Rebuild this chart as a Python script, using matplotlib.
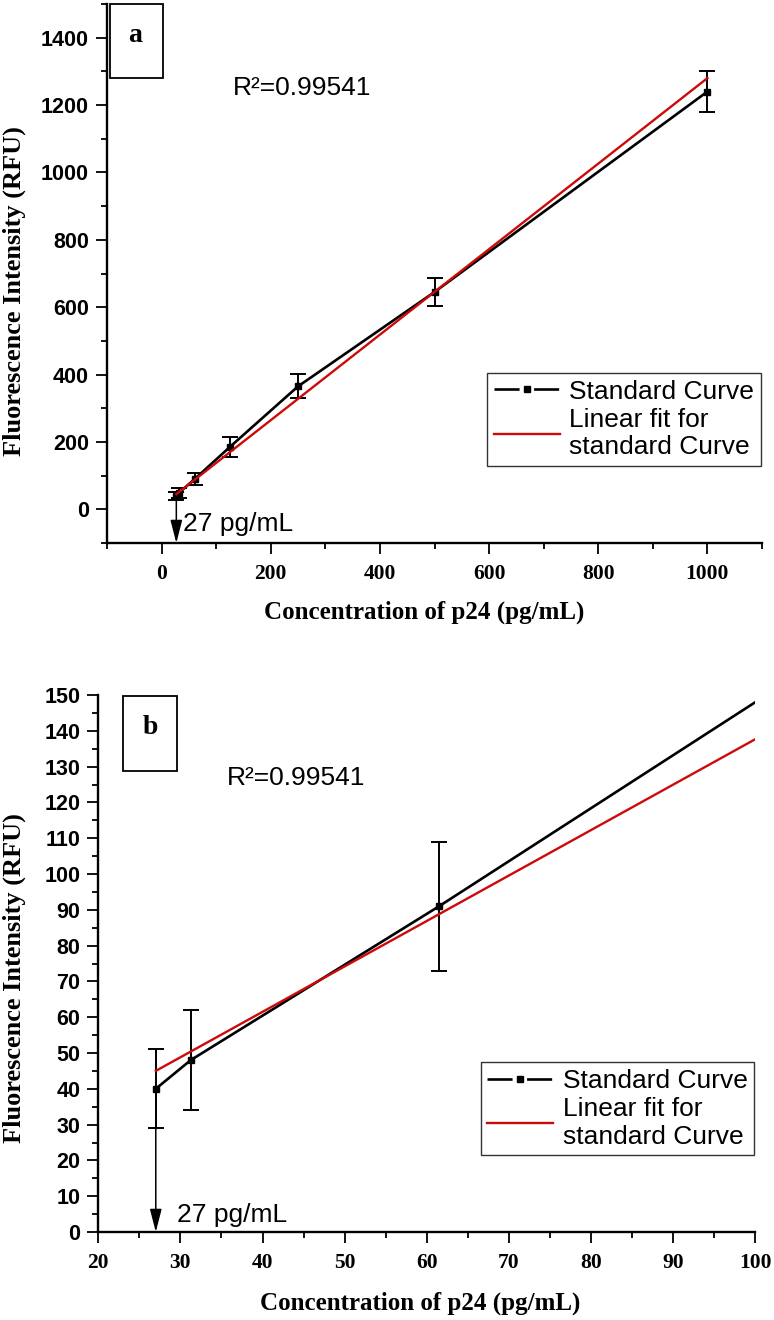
import matplotlib
matplotlib.use("Agg")
import matplotlib.pyplot as plt
from matplotlib.patches import Rectangle
from matplotlib.lines import Line2D
from matplotlib.ticker import MultipleLocator

# standard curve, values
conc = [27, 31.25, 61.5, 125, 250, 500, 1000]
rfu = [40, 48, 91, 185, 365, 645, 1240]
rfu_err = [11, 14, 18, 30, 36, 42, 60]

# linear fit end points
fit_x = [27, 1000]
fit_y = [45, 1280]

# tick positions
a_xticks = [0, 200, 400, 600, 800, 1000]
a_yticks = [0, 200, 400, 600, 800, 1000, 1200, 1400]
b_xticks = [20, 30, 40, 50, 60, 70, 80, 90, 100]
b_yticks = [0, 10, 20, 30, 40, 50, 60, 70, 80, 90, 100, 110, 120, 130, 140, 150]

r2_text = "R\u00b2=0.99541"
lod_text = "27 pg/mL"
lod = 27

xlab = "Concentration of p24 (pg/mL)"
ylab = "Fluorescence Intensity (RFU)"

SANS = "Liberation Sans"
SERIF = "Liberation Serif"
RED = "#cc0a0a"
TXT = 19

fig = plt.figure(figsize=(7.74, 13.2), dpi=100)
ax1 = fig.add_axes([107/774, 1-543/1320, 655/774, 539/1320])
ax2 = fig.add_axes([98.3/774, 1-1232/1320, 657/774, 537/1320])


def style(ax, xt, yt, xmin, ymin):
    for s in ["top", "right"]:
        ax.spines[s].set_visible(False)
    for s in ["left", "bottom"]:
        ax.spines[s].set_linewidth(1.7)
    ax.set_xticks(xt, labels=[str(v) for v in xt], fontfamily=SERIF,
                  fontweight="bold", fontsize=15.5)
    ax.set_yticks(yt, labels=[str(v) for v in yt], fontfamily=SANS,
                  fontweight="bold", fontsize=15.5)
    ax.xaxis.set_minor_locator(MultipleLocator(xmin))
    ax.yaxis.set_minor_locator(MultipleLocator(ymin))
    ax.tick_params(which="major", length=8, width=1.3, direction="out")
    ax.tick_params(which="minor", length=4.5, width=1.3, direction="out")
    ax.tick_params(axis="y", which="major", pad=5)
    ax.tick_params(axis="x", which="major", pad=7)


def draw(ax):
    ax.errorbar(conc, rfu, yerr=rfu_err, fmt="s-", color="black", ms=5,
                lw=1.9, elinewidth=1.4, capsize=6, capthick=1.4, zorder=3)
    ax.plot(fit_x, fit_y, color=RED, lw=1.7, zorder=4)
    handles = [Line2D([], [], color="black", lw=1.9, marker="s", ms=5,
                      ls=(0, (9.5, 5.5))),
               Line2D([], [], color=RED, lw=1.7)]
    labels = ["Standard Curve", "Linear fit for\nstandard Curve"]
    leg = ax.legend(handles, labels, loc="lower right",
                    bbox_to_anchor=(0.998, 0.143),
                    borderaxespad=0, fancybox=False, framealpha=1,
                    edgecolor="#333333", handlelength=2.5, handletextpad=0.35,
                    borderpad=0.25, labelspacing=0.15,
                    prop={"family": SANS, "size": TXT})
    leg.get_frame().set_linewidth(1.0)


# panel a
draw(ax1)
style(ax1, a_xticks, a_yticks, 100, 100)
ax1.set_xlim(-100, 1100)
ax1.set_ylim(-100, 1500)
ax1.annotate("", xy=(lod, -100), xytext=(lod, 40),
             arrowprops=dict(arrowstyle="-|>,head_length=0.7,head_width=0.18",
                             color="black", lw=1.1, mutation_scale=20,
                             shrinkA=0, shrinkB=0), zorder=2)
ax1.text(40, -45, lod_text, family=SANS, fontsize=TXT, va="center", ha="left")
ax1.text(0.192, 0.844, r2_text, transform=ax1.transAxes, family=SANS,
         fontsize=TXT, va="center", ha="left")
ax1.add_patch(Rectangle((0.005, 0.863), 0.08, 0.137, transform=ax1.transAxes,
                        fill=False, lw=1.3, edgecolor="black", clip_on=False))
ax1.text(0.043, 0.942, "a", transform=ax1.transAxes, family=SERIF,
         fontweight="bold", fontsize=20, ha="center", va="center")

# panel b
draw(ax2)
style(ax2, b_xticks, b_yticks, 5, 5)
ax2.set_xlim(20, 100)
ax2.set_ylim(0, 150)
ax2.annotate("", xy=(lod, 0), xytext=(lod, 40),
             arrowprops=dict(arrowstyle="-|>,head_length=0.7,head_width=0.18",
                             color="black", lw=1.1, mutation_scale=20,
                             shrinkA=0, shrinkB=0), zorder=2)
ax2.text(29.6, 4.8, lod_text, family=SANS, fontsize=TXT, va="center", ha="left")
ax2.text(0.196, 0.845, r2_text, transform=ax2.transAxes, family=SANS,
         fontsize=TXT, va="center", ha="left")
ax2.add_patch(Rectangle((0.038, 0.858), 0.082, 0.14, transform=ax2.transAxes,
                        fill=False, lw=1.3, edgecolor="black", clip_on=False))
ax2.text(0.079, 0.94, "b", transform=ax2.transAxes, family=SERIF,
         fontweight="bold", fontsize=20, ha="center", va="center")

for ax, xl, yl in [(ax1, (0.484, -0.128), (-0.142, 0.468)),
                   (ax2, (0.49, -0.132), (-0.128, 0.473))]:
    ax.set_xlabel(xlab, family=SERIF, fontweight="bold", fontsize=18, va="center")
    ax.set_ylabel(ylab, family=SERIF, fontweight="bold", fontsize=19, va="center")
    ax.xaxis.set_label_coords(*xl)
    ax.yaxis.set_label_coords(*yl)

fig.savefig("out.png", dpi=100)
